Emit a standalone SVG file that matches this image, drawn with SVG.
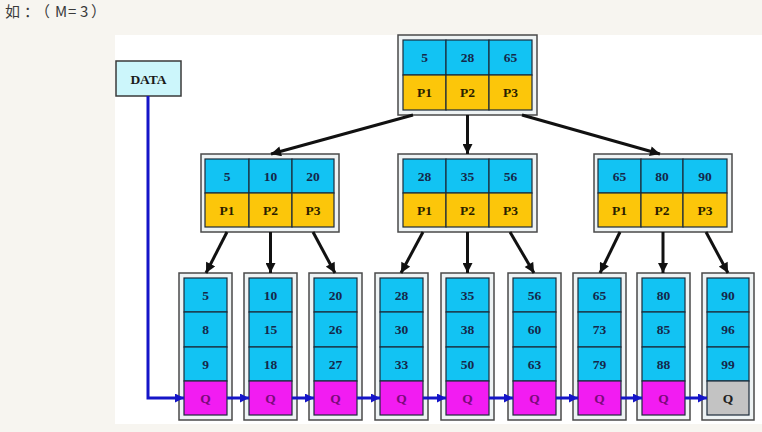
<svg xmlns="http://www.w3.org/2000/svg" width="762" height="432" viewBox="0 0 762 432">
<defs>
<style>
.frame{fill:#eef3f4;stroke:#4a4a4a;stroke-width:1.5}
.k{fill:#12c3f3;stroke:#1b2b3a;stroke-width:1.2}
.p{fill:#fcc60a;stroke:#1b2b3a;stroke-width:1.2}
.q{fill:#f21cf2;stroke:#1b2b3a;stroke-width:1.2}
.g{fill:#c3c3c3;stroke:#1b2b3a;stroke-width:1.2}
text{font-family:"Liberation Serif","DejaVu Serif",serif;font-weight:bold;font-size:13.5px;text-anchor:middle}
.tk{fill:#15284a}
.tp{fill:#2a1e00}
.tq{fill:#7a0a7a}
.tg{fill:#202020}
.blk{stroke:#111;stroke-width:3;fill:none;marker-end:url(#ab)}
.blu{stroke:#1515c8;stroke-width:3;fill:none;marker-end:url(#au)}
</style>
<marker id="ab" viewBox="0 0 10 10" refX="10" refY="5" markerWidth="11" markerHeight="10" markerUnits="userSpaceOnUse" orient="auto"><path d="M0,0 L10,5 L0,10 Z" fill="#111"/></marker>
<marker id="au" viewBox="0 0 10 10" refX="10" refY="5" markerWidth="9" markerHeight="9" markerUnits="userSpaceOnUse" orient="auto"><path d="M0,0 L10,5 L0,10 Z" fill="#1515c8"/></marker>
</defs>
<rect x="0" y="0" width="762" height="432" fill="#f7f5f0"/>
<rect x="115" y="35" width="647" height="389" fill="#ffffff"/>
<text x="5 24 35 55 68 80 91" y="17" style="font-family:'Noto Sans CJK SC','Noto Sans',sans-serif;font-weight:normal;font-size:15px;text-anchor:start;fill:#3a3a3a">如：（M=3）</text>

<g id="data">
<rect x="116" y="61" width="65" height="35" fill="#ccf6fb" stroke="#3a3a3a" stroke-width="1.5"/>
<text x="148.5" y="84" fill="#1a1a1a">DATA</text>
</g>

<g id="root">
<rect class="frame" x="398" y="35" width="139" height="80"/>
<rect class="k" x="403" y="40" width="43" height="35"/><rect class="k" x="446" y="40" width="43" height="35"/><rect class="k" x="489" y="40" width="43" height="35"/>
<rect class="p" x="403" y="75" width="43" height="35"/><rect class="p" x="446" y="75" width="43" height="35"/><rect class="p" x="489" y="75" width="43" height="35"/>
<text class="tk" x="424.5" y="62">5</text><text class="tk" x="467.5" y="62">28</text><text class="tk" x="510.5" y="62">65</text>
<text class="tp" x="424.5" y="97">P1</text><text class="tp" x="467.5" y="97">P2</text><text class="tp" x="510.5" y="97">P3</text>
</g>

<g id="n5">
<rect class="frame" x="201" y="154" width="138" height="78"/>
<rect class="k" x="205" y="159" width="44" height="34"/><rect class="k" x="249" y="159" width="43" height="34"/><rect class="k" x="292" y="159" width="42" height="34"/>
<rect class="p" x="205" y="193" width="44" height="34"/><rect class="p" x="249" y="193" width="43" height="34"/><rect class="p" x="292" y="193" width="42" height="34"/>
<text class="tk" x="227" y="181">5</text><text class="tk" x="270.5" y="181">10</text><text class="tk" x="313" y="181">20</text>
<text class="tp" x="227" y="215">P1</text><text class="tp" x="270.5" y="215">P2</text><text class="tp" x="313" y="215">P3</text>
</g>

<g id="n28">
<rect class="frame" x="398" y="154" width="139" height="78"/>
<rect class="k" x="403" y="159" width="43" height="34"/><rect class="k" x="446" y="159" width="43" height="34"/><rect class="k" x="489" y="159" width="43" height="34"/>
<rect class="p" x="403" y="193" width="43" height="34"/><rect class="p" x="446" y="193" width="43" height="34"/><rect class="p" x="489" y="193" width="43" height="34"/>
<text class="tk" x="424.5" y="181">28</text><text class="tk" x="467.5" y="181">35</text><text class="tk" x="510.5" y="181">56</text>
<text class="tp" x="424.5" y="215">P1</text><text class="tp" x="467.5" y="215">P2</text><text class="tp" x="510.5" y="215">P3</text>
</g>

<g id="n65">
<rect class="frame" x="594" y="154" width="138" height="78"/>
<rect class="k" x="598" y="159" width="43" height="34"/><rect class="k" x="641" y="159" width="42" height="34"/><rect class="k" x="683" y="159" width="44" height="34"/>
<rect class="p" x="598" y="193" width="43" height="34"/><rect class="p" x="641" y="193" width="42" height="34"/><rect class="p" x="683" y="193" width="44" height="34"/>
<text class="tk" x="619.5" y="181">65</text><text class="tk" x="662" y="181">80</text><text class="tk" x="705" y="181">90</text>
<text class="tp" x="619.5" y="215">P1</text><text class="tp" x="662" y="215">P2</text><text class="tp" x="705" y="215">P3</text>
</g>

<g id="leaf1">
<rect class="frame" x="179" y="273" width="53" height="147"/>
<rect class="k" x="184" y="278" width="43" height="34"/><rect class="k" x="184" y="312" width="43" height="35"/><rect class="k" x="184" y="347" width="43" height="34"/><rect class="q" x="184" y="381" width="43" height="34"/>
<text class="tk" x="205.5" y="300">5</text><text class="tk" x="205.5" y="334">8</text><text class="tk" x="205.5" y="369">9</text><text class="tq" x="205.5" y="403">Q</text>
</g>
<g id="leaf2">
<rect class="frame" x="244" y="273" width="53" height="147"/>
<rect class="k" x="249" y="278" width="43" height="34"/><rect class="k" x="249" y="312" width="43" height="35"/><rect class="k" x="249" y="347" width="43" height="34"/><rect class="q" x="249" y="381" width="43" height="34"/>
<text class="tk" x="270.5" y="300">10</text><text class="tk" x="270.5" y="334">15</text><text class="tk" x="270.5" y="369">18</text><text class="tq" x="270.5" y="403">Q</text>
</g>
<g id="leaf3">
<rect class="frame" x="309" y="273" width="53" height="147"/>
<rect class="k" x="314" y="278" width="43" height="34"/><rect class="k" x="314" y="312" width="43" height="35"/><rect class="k" x="314" y="347" width="43" height="34"/><rect class="q" x="314" y="381" width="43" height="34"/>
<text class="tk" x="335.5" y="300">20</text><text class="tk" x="335.5" y="334">26</text><text class="tk" x="335.5" y="369">27</text><text class="tq" x="335.5" y="403">Q</text>
</g>
<g id="leaf4">
<rect class="frame" x="375" y="273" width="53" height="147"/>
<rect class="k" x="380" y="278" width="43" height="34"/><rect class="k" x="380" y="312" width="43" height="35"/><rect class="k" x="380" y="347" width="43" height="34"/><rect class="q" x="380" y="381" width="43" height="34"/>
<text class="tk" x="401.5" y="300">28</text><text class="tk" x="401.5" y="334">30</text><text class="tk" x="401.5" y="369">33</text><text class="tq" x="401.5" y="403">Q</text>
</g>
<g id="leaf5">
<rect class="frame" x="441" y="273" width="53" height="147"/>
<rect class="k" x="446" y="278" width="43" height="34"/><rect class="k" x="446" y="312" width="43" height="35"/><rect class="k" x="446" y="347" width="43" height="34"/><rect class="q" x="446" y="381" width="43" height="34"/>
<text class="tk" x="467.5" y="300">35</text><text class="tk" x="467.5" y="334">38</text><text class="tk" x="467.5" y="369">50</text><text class="tq" x="467.5" y="403">Q</text>
</g>
<g id="leaf6">
<rect class="frame" x="508" y="273" width="53" height="147"/>
<rect class="k" x="513" y="278" width="43" height="34"/><rect class="k" x="513" y="312" width="43" height="35"/><rect class="k" x="513" y="347" width="43" height="34"/><rect class="q" x="513" y="381" width="43" height="34"/>
<text class="tk" x="534.5" y="300">56</text><text class="tk" x="534.5" y="334">60</text><text class="tk" x="534.5" y="369">63</text><text class="tq" x="534.5" y="403">Q</text>
</g>
<g id="leaf7">
<rect class="frame" x="573" y="273" width="53" height="147"/>
<rect class="k" x="578" y="278" width="43" height="34"/><rect class="k" x="578" y="312" width="43" height="35"/><rect class="k" x="578" y="347" width="43" height="34"/><rect class="q" x="578" y="381" width="43" height="34"/>
<text class="tk" x="599.5" y="300">65</text><text class="tk" x="599.5" y="334">73</text><text class="tk" x="599.5" y="369">79</text><text class="tq" x="599.5" y="403">Q</text>
</g>
<g id="leaf8">
<rect class="frame" x="637" y="273" width="53" height="147"/>
<rect class="k" x="642" y="278" width="43" height="34"/><rect class="k" x="642" y="312" width="43" height="35"/><rect class="k" x="642" y="347" width="43" height="34"/><rect class="q" x="642" y="381" width="43" height="34"/>
<text class="tk" x="663.5" y="300">80</text><text class="tk" x="663.5" y="334">85</text><text class="tk" x="663.5" y="369">88</text><text class="tq" x="663.5" y="403">Q</text>
</g>
<g id="leaf9">
<rect class="frame" x="702" y="273" width="52" height="147"/>
<rect class="k" x="707" y="278" width="42" height="34"/><rect class="k" x="707" y="312" width="42" height="35"/><rect class="k" x="707" y="347" width="42" height="34"/><rect class="g" x="707" y="381" width="42" height="34"/>
<text class="tk" x="728" y="300">90</text><text class="tk" x="728" y="334">96</text><text class="tk" x="728" y="369">99</text><text class="tg" x="728" y="403">Q</text>
</g>

<g id="connectors">
<path class="blk" d="M413,115 L271,154"/>
<path class="blk" d="M467.5,115 L467.5,154"/>
<path class="blk" d="M522,115 L660,154"/>
<path class="blk" d="M227,232 L206,273"/>
<path class="blk" d="M270.5,232 L270.5,273"/>
<path class="blk" d="M313,232 L335,273"/>
<path class="blk" d="M423,232 L401,273"/>
<path class="blk" d="M467.5,232 L467.5,273"/>
<path class="blk" d="M510,232 L534,273"/>
<path class="blk" d="M620,232 L600,273"/>
<path class="blk" d="M663,232 L663,273"/>
<path class="blk" d="M706,232 L728,273"/>
<path class="blu" d="M148,96 L148,398 L184,398"/>
<path class="blu" d="M227,398 L249,398"/>
<path class="blu" d="M292,398 L314,398"/>
<path class="blu" d="M357,398 L380,398"/>
<path class="blu" d="M423,398 L446,398"/>
<path class="blu" d="M489,398 L513,398"/>
<path class="blu" d="M556,398 L578,398"/>
<path class="blu" d="M621,398 L642,398"/>
<path class="blu" d="M685,398 L707,398"/>
</g>
</svg>
